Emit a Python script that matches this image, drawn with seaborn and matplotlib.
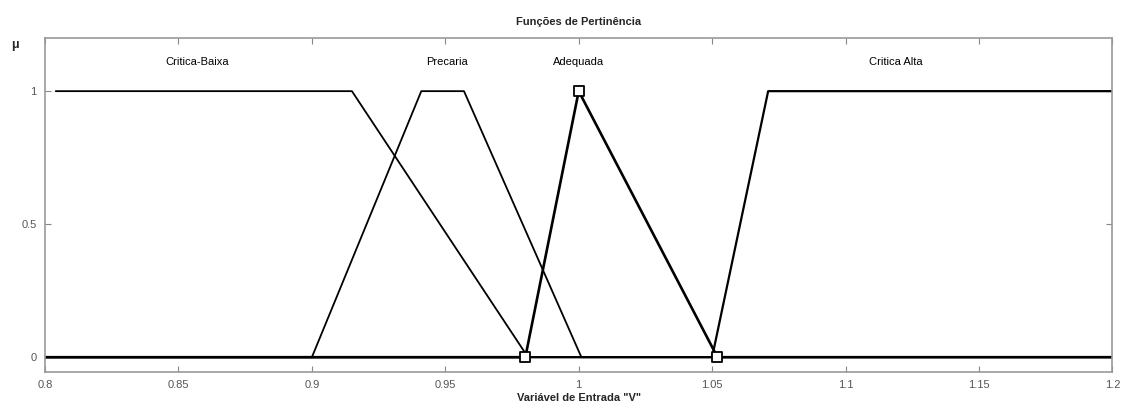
import numpy as np
import pandas as pd
import matplotlib
matplotlib.use("Agg")
import matplotlib.pyplot as plt
import seaborn as sns

# Membership function vertices (x, mu)
cb_x = [0.804, 0.915, 0.981, 1.2]
cb_y = [1, 1, 0, 0]
pr_x = [0.8, 0.9, 0.941, 0.957, 1.001, 1.2]
pr_y = [0, 0, 1, 1, 0, 0]
ad_x = [0.8, 0.98, 1.0, 1.052, 1.2]
ad_y = [0, 0, 1, 0, 0]
ca_x = [0.8, 1.05, 1.071, 1.2]
ca_y = [0, 0, 1, 1]

labels = ["Critica-Baixa", "Precaria", "Adequada", "Critica Alta"]
label_x = [0.857, 0.9505, 1.0, 1.119]
label_y = 1.11

marker_x = [0.98, 1.0, 1.052]
marker_y = [0, 1, 0]

xticks = [0.8, 0.85, 0.9, 0.95, 1.0, 1.05, 1.1, 1.15, 1.2]
xticklabels = ["0.8", "0.85", "0.9", "0.95", "1", "1.05", "1.1", "1.15", "1.2"]
yticks = [0, 0.5, 1]
yticklabels = ["0", "0.5", "1"]

sns.set_theme(style="white")
plt.rcParams['font.family'] = ['Liberation Sans', 'DejaVu Sans']

fig = plt.figure(figsize=(11.27, 4.08), dpi=100)
ax = fig.add_axes([0.040, 0.088, 0.947, 0.819])

series = [(cb_x, cb_y, 1.3), (pr_x, pr_y, 1.3), (ad_x, ad_y, 1.9), (ca_x, ca_y, 1.6)]
for xs, ys, lw in series:
    df = pd.DataFrame({"x": xs, "y": ys})
    sns.lineplot(data=df, x="x", y="y", ax=ax, color="black", lw=lw,
                 estimator=None, sort=False, legend=False)

mdf = pd.DataFrame({"x": marker_x, "y": marker_y})
sns.scatterplot(data=mdf, x="x", y="y", ax=ax, marker="s", s=48,
                facecolor="white", edgecolor="black", linewidth=1.3, zorder=5,
                legend=False)

for t, lx in zip(labels, label_x):
    ax.text(lx, label_y, t, ha="center", va="center", fontsize=8, color="black")

ax.set_xlim(0.8, 1.2)
ax.set_ylim(-0.056, 1.2)
ax.set_xticks(xticks)
ax.set_xticklabels(xticklabels)
ax.set_yticks(yticks)
ax.set_yticklabels(yticklabels)
ax.tick_params(direction="in", length=4, width=0.8, colors="#888888",
               labelcolor="#555555", labelsize=8, top=True, right=True,
               bottom=True, left=True, pad=6)
for s in ax.spines.values():
    s.set_color("#999999")
    s.set_linewidth(1.2)

ax.set_xlabel('Variável de Entrada "V"', fontsize=8, fontweight="bold", labelpad=2)
ax.set_ylabel("")
ax.set_title("Funções de Pertinência", fontsize=8, fontweight="bold", pad=9)
fig.text(0.013, 0.89, "μ", fontsize=9, fontweight="bold", ha="center", va="center")

fig.savefig("out.png", dpi=100, facecolor="white")
